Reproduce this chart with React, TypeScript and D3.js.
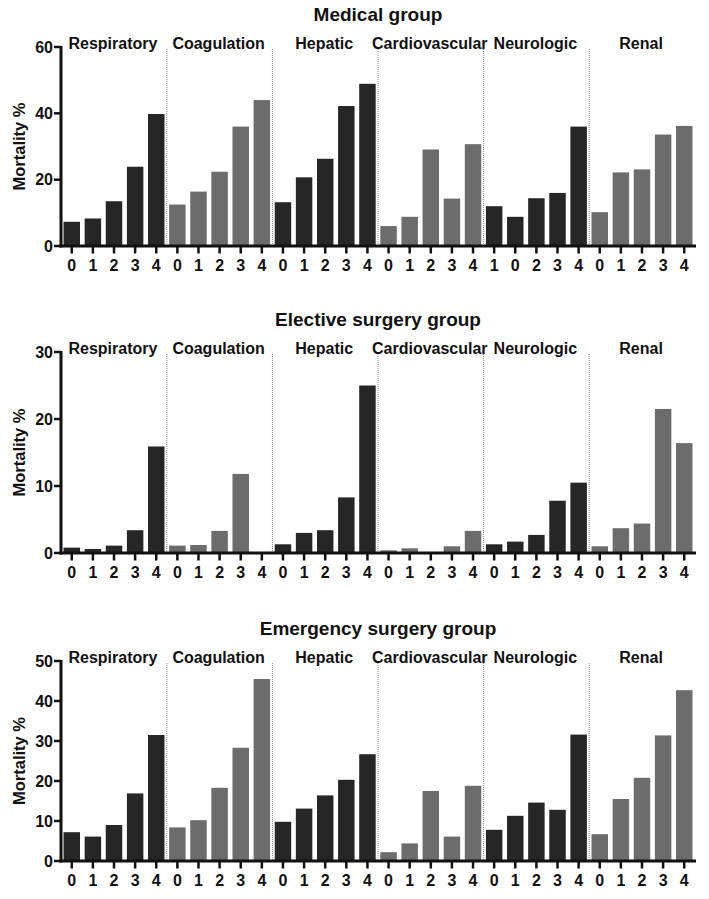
import React from "react";
import * as d3 from "d3";

const systems = ["Respiratory", "Coagulation", "Hepatic", "Cardiovascular", "Neurologic", "Renal"];
const systemShade = ["dark", "gray", "dark", "gray", "dark", "gray"];

const medicalTitle = "Medical group";
const medicalTicks = ["0","1","2","3","4","0","1","2","3","4","0","1","2","3","4","0","1","2","3","4","1","0","2","3","4","0","1","2","3","4"];
const medicalValues = [
  7.3, 8.3, 13.5, 23.9, 39.8,
  12.5, 16.4, 22.4, 36.0, 44.0,
  13.2, 20.7, 26.3, 42.2, 48.9,
  6.0, 8.8, 29.1, 14.3, 30.7,
  12.0, 8.8, 14.4, 16.0, 36.0,
  10.2, 22.2, 23.1, 33.6, 36.2,
];
const medicalYTicks = [0, 20, 40, 60];

const electiveTitle = "Elective surgery group";
const electiveTicks = ["0","1","2","3","4","0","1","2","3","4","0","1","2","3","4","0","1","2","3","4","0","1","2","3","4","0","1","2","3","4"];
const electiveValues = [
  0.8, 0.6, 1.1, 3.4, 15.9,
  1.1, 1.2, 3.3, 11.8, 0,
  1.3, 3.0, 3.4, 8.3, 25.0,
  0.4, 0.7, 0, 1.0, 3.3,
  1.3, 1.7, 2.7, 7.8, 10.5,
  1.0, 3.7, 4.4, 21.5, 16.4,
];
const electiveYTicks = [0, 10, 20, 30];

const emergencyTitle = "Emergency surgery group";
const emergencyTicks = ["0","1","2","3","4","0","1","2","3","4","0","1","2","3","4","0","1","2","3","4","0","1","2","3","4","0","1","2","3","4"];
const emergencyValues = [
  7.2, 6.1, 9.0, 16.9, 31.5,
  8.4, 10.2, 18.3, 28.3, 45.5,
  9.8, 13.1, 16.4, 20.3, 26.7,
  2.2, 4.4, 17.5, 6.1, 18.8,
  7.8, 11.3, 14.6, 12.8, 31.6,
  6.7, 15.5, 20.8, 31.4, 42.7,
];
const emergencyYTicks = [0, 10, 20, 30, 40, 50];

const FONT = "'Liberation Sans', Arial, Helvetica, sans-serif";
const DARK = "#262626";
const GRAY = "#6c6c6c";

type PanelProps = {
  title: string;
  ticks: string[];
  values: number[];
  yTicks: number[];
  top: number;
  bottom: number;
};

function Panel({ title, ticks, values, yTicks, top, bottom }: PanelProps) {
  const left = 61;
  const right = 695;
  const idx = values.map((_, i) => i);
  const x = d3.scaleBand<number>().domain(idx).range([left, right]).paddingInner(0.22).paddingOuter(0.12);
  const yMax = yTicks[yTicks.length - 1];
  const y = d3.scaleLinear().domain([0, yMax]).range([bottom, top]);
  const bw = x.bandwidth();
  const dividers = [1, 2, 3, 4, 5].map((k) => (x(5 * k - 1)! + bw + x(5 * k)!) / 2);
  const midY = (top + bottom) / 2;
  return (
    <g>
      <text x={378} y={top - 26} textAnchor="middle" fontFamily={FONT} fontWeight="bold" fontSize={19} fill="#111">
        {title}
      </text>
      {systems.map((s, g) => {
        const gx0 = g === 0 ? left : dividers[g - 1];
        const gx1 = g === 5 ? right : dividers[g];
        return (
          <text key={s} x={(gx0 + gx1) / 2 - 1} y={top + 2} textAnchor="middle" fontFamily={FONT} fontWeight="bold" fontSize={16} fill="#111">
            {s}
          </text>
        );
      })}
      {dividers.map((dx, i) => (
        <line key={i} x1={dx} x2={dx} y1={top + 2} y2={bottom} stroke="#8a8a8a" strokeWidth={1} strokeDasharray="1,1" />
      ))}
      {values.map((v, i) => (
        <rect
          key={i}
          x={x(i)!}
          y={y(v)}
          width={bw}
          height={Math.max(0, bottom - y(v))}
          fill={systemShade[Math.floor(i / 5)] === "dark" ? DARK : GRAY}
        />
      ))}
      <line x1={left} x2={left} y1={top - 1} y2={bottom + 1.5} stroke="#111" strokeWidth={3} />
      {yTicks.map((t) => (
        <g key={t}>
          <line x1={left - 7} x2={left} y1={y(t)} y2={y(t)} stroke="#111" strokeWidth={2.5} />
          <text x={left - 8} y={y(t)} dy="0.36em" textAnchor="end" fontFamily={FONT} fontWeight="bold" fontSize={16} fill="#111">
            {t}
          </text>
        </g>
      ))}
      <line x1={left - 1.5} x2={right + 1} y1={bottom} y2={bottom} stroke="#111" strokeWidth={3} />
      {ticks.map((t, i) => {
        const cx = x(i)! + bw / 2;
        return (
          <g key={i}>
            <line x1={cx} x2={cx} y1={bottom} y2={bottom + 7.5} stroke="#111" strokeWidth={2.5} />
            <text x={cx} y={bottom + 25} textAnchor="middle" fontFamily={FONT} fontWeight="bold" fontSize={16} fill="#111">
              {t}
            </text>
          </g>
        );
      })}
      <text
        transform={`translate(25,${midY}) rotate(-90)`}
        textAnchor="middle"
        fontFamily={FONT}
        fontWeight="bold"
        fontSize={16.5}
        fill="#111"
      >
        Mortality %
      </text>
    </g>
  );
}

export default function App() {
  return (
    <svg width={709} height={899} style={{ position: "absolute", left: 0, top: 0, background: "#fff" }}>
      <rect width={709} height={899} fill="#fff" />
      <Panel title={medicalTitle} ticks={medicalTicks} values={medicalValues} yTicks={medicalYTicks} top={47} bottom={246} />
      <Panel title={electiveTitle} ticks={electiveTicks} values={electiveValues} yTicks={electiveYTicks} top={352} bottom={553} />
      <Panel title={emergencyTitle} ticks={emergencyTicks} values={emergencyValues} yTicks={emergencyYTicks} top={661} bottom={861} />
    </svg>
  );
}
